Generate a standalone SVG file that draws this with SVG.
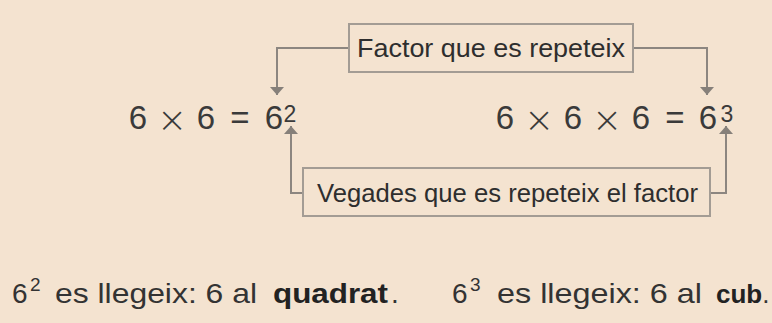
<svg xmlns="http://www.w3.org/2000/svg" width="772" height="323" viewBox="0 0 772 323">
<defs>
<marker id="ah" markerUnits="userSpaceOnUse" markerWidth="10" markerHeight="16" viewBox="0 -8 10 16" refX="8" refY="0" orient="auto">
<path d="M0,-7 L8,0 L0,7 z" fill="#86807a"/>
</marker>
<style>
.bg{fill:#F4E3D0}
.box{fill:#F4E3D0;stroke:#a39c94;stroke-width:2}
.lbl{font-family:"Liberation Sans",Arial,sans-serif;font-size:25px;fill:#2e2e2e}
.eq{font-family:"Liberation Sans",Arial,sans-serif;font-size:33px;fill:#3a3a3a;text-anchor:middle}
.x{font-family:"DejaVu Sans",sans-serif;font-weight:200;font-size:36px}
.sup{font-family:"Liberation Sans",Arial,sans-serif;font-size:23px;fill:#3a3a3a;text-anchor:middle}
.note{font-family:"Liberation Sans",Arial,sans-serif;font-size:28px;fill:#333}
.b{font-weight:bold;fill:#222}
.con{fill:none;stroke:#8c8680;stroke-width:2;marker-end:url(#ah)}
</style>
</defs>
<rect class="bg" x="0" y="0" width="772" height="323"/>

<g id="connectors">
<path class="con" d="M349,48 H277 V95"/>
<path class="con" d="M633,48 H707 V95"/>
<path class="con" d="M303,193 H291 V126"/>
<path class="con" d="M710,193 H726 V126"/>
</g>

<g id="box-factor">
<rect class="box" x="349" y="24" width="284" height="48"/>
<text class="lbl" x="357" y="57" textLength="268" lengthAdjust="spacingAndGlyphs">Factor que es repeteix</text>
</g>

<g id="box-vegades">
<rect class="box" x="303" y="168" width="407" height="48"/>
<text class="lbl" x="317" y="202" textLength="381" lengthAdjust="spacingAndGlyphs">Vegades que es repeteix el factor</text>
</g>

<g id="eq-square">
<text class="eq" y="129"><tspan x="138">6</tspan><tspan x="206">6</tspan><tspan x="240">=</tspan><tspan x="274">6</tspan></text>
<text class="eq x" x="172" y="132">×</text>
<text class="sup" x="290" y="122">2</text>
</g>

<g id="eq-cube">
<text class="eq" y="129"><tspan x="505">6</tspan><tspan x="573">6</tspan><tspan x="641">6</tspan><tspan x="675">=</tspan><tspan x="708">6</tspan></text>
<text class="eq x" y="132"><tspan x="539">×</tspan><tspan x="607">×</tspan></text>
<text class="sup" x="727" y="122">3</text>
</g>

<g id="note-square">
<text class="note" x="12" y="303">6</text>
<text class="note" x="30" y="291" style="font-size:19px">2</text>
<text class="note" x="55" y="303" textLength="202" lengthAdjust="spacingAndGlyphs">es llegeix: 6 al</text>
<text class="note" x="273" y="303"><tspan class="b" textLength="115" lengthAdjust="spacingAndGlyphs">quadrat</tspan><tspan x="391">.</tspan></text>
</g>

<g id="note-cube">
<text class="note" x="452" y="303">6</text>
<text class="note" x="470" y="291" style="font-size:19px">3</text>
<text class="note" x="497" y="303" textLength="205" lengthAdjust="spacingAndGlyphs">es llegeix: 6 al</text>
<text class="note" x="716" y="303" style="font-size:26px"><tspan class="b">cub</tspan><tspan>.</tspan></text>
</g>
</svg>
